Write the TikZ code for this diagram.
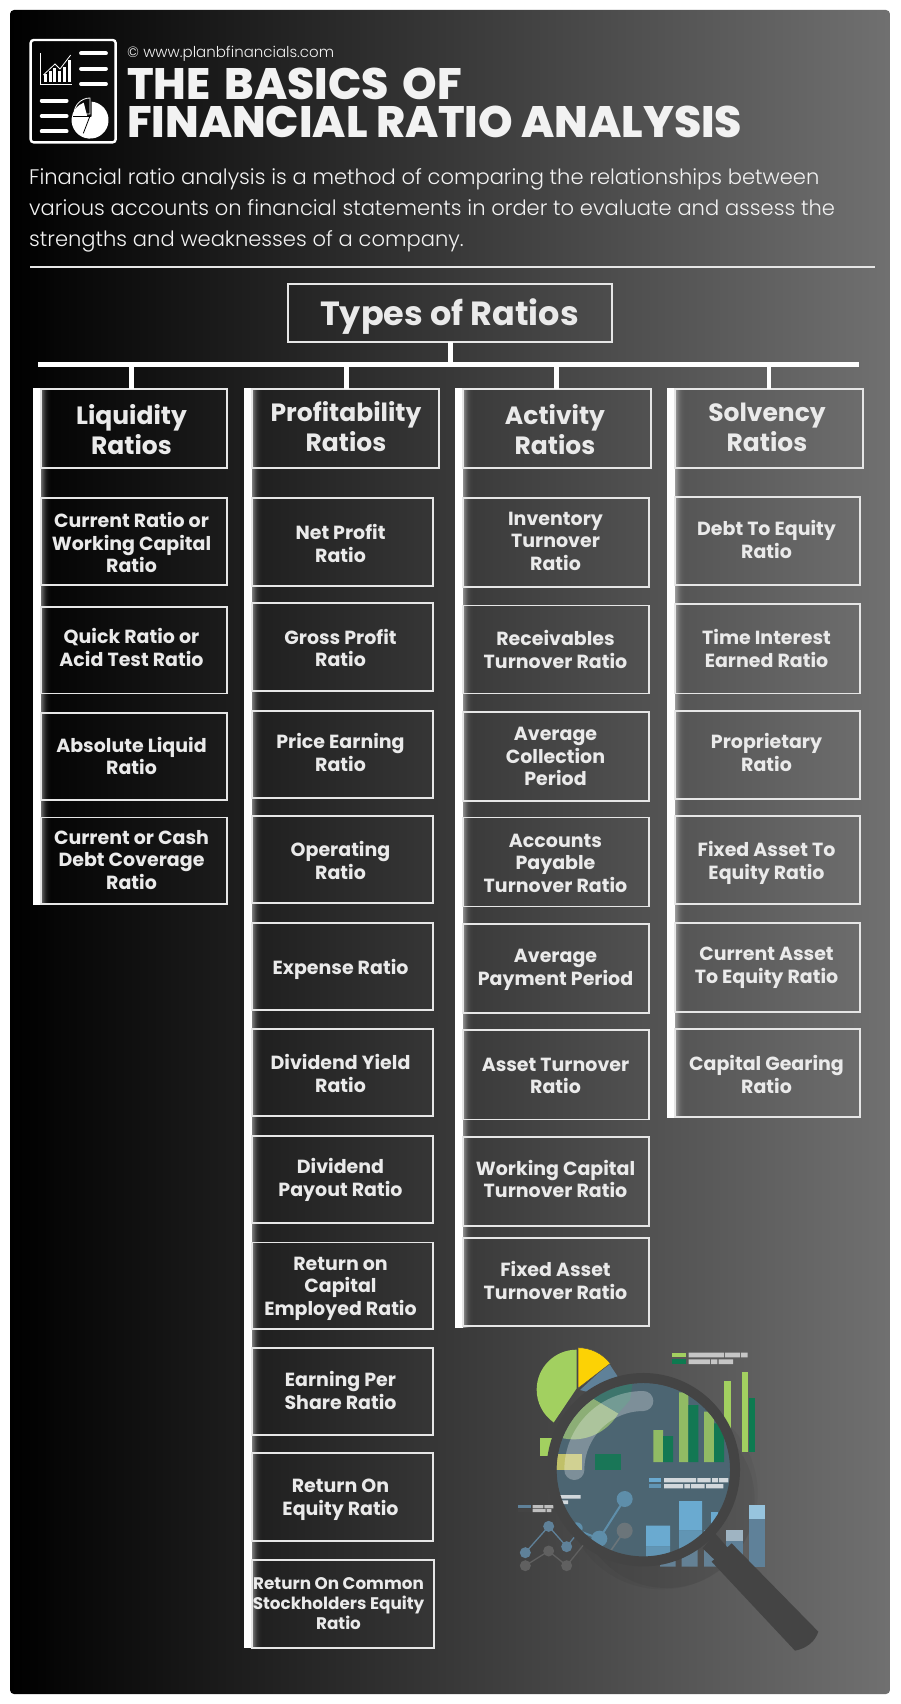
\documentclass[tikz,border=0pt]{standalone}
\usepackage{fontspec}
\usetikzlibrary{fit}
\setmainfont{Poppins}
\newfontfamily\titlef{Poppins ExtraBold}
\newfontfamily\bodyf{Poppins Light}
\definecolor{ink}{HTML}{F2F2F2}
\definecolor{cell}{HTML}{EAEAEA}
\definecolor{edge}{HTML}{E6E6E6}
\definecolor{ringc}{HTML}{444444}
\definecolor{lg}{HTML}{A2D060}
\definecolor{dg}{HTML}{0D7A50}
\definecolor{bl}{HTML}{5F8199}
\definecolor{blt}{HTML}{6AAAD0}
\definecolor{lensc}{HTML}{4C6572}
\tikzset{
  rectb/.style={draw=edge,inner sep=0pt,outer sep=0pt},
  hbx/.style={rectb,line width=1.9pt},
  ibx/.style={rectb,line width=1.5pt},
  lbx/.style={rectb,line width=1.9pt},
  txtb/.style={text=cell,align=center,inner sep=0pt,yshift=-2.3pt},
  htxt/.style={txtb,yshift=-1pt,font=\fontsize{25}{30}\selectfont\bfseries},
  itxt/.style={txtb,font=\fontsize{19}{22.5}\selectfont\bfseries},
  ltxt/.style={txtb,font=\fontsize{16.8}{20}\selectfont\bfseries},
  wbar/.style={fill=white,draw=none,inner sep=0pt,outer sep=0pt},
  conn/.style={draw=white,line width=4.6pt},
  mini/.style={x=0.33333pt,y=-0.33333pt},
}
\newcommand{\rbox}[9][i]{%
  \coordinate (#2-a) at (#3,#4); \coordinate (#2-b) at (#5,#6);
  \node[#1bx,fit=(#2-a)(#2-b)] (#2) {};
  \node[#1txt] (#2-t) at (#7,#8) {\strut #9\strut};}
\newcommand{\sidebar}[4]{%
  \foreach \i/\o in {0/.42,1/.34,2/.27,3/.2,4/.14,5/.09,6/.06,7/.035,8/.02,9/.01}{
    \fill[white,opacity=\o] ({#2+\i},#3) rectangle ({#2+\i+1},#4);}
  \coordinate (#1-a) at ({#2-8},{#3-1}); \coordinate (#1-b) at (#2,#4);
  \node[wbar,fit=(#1-a)(#1-b)] (#1) {};}
\begin{document}
\begin{tikzpicture}[x=1pt,y=-1pt]
\useasboundingbox (0,0) rectangle (900,1704);
\fill[white] (0,0) rectangle (900,1704);
\shade[left color=black,right color=black!56!white,rounded corners=4pt] (10,10) rectangle (890,1694);

% header icon
\begin{scope}[shift={(0,0)},mini]
  \draw[white,line width=2.4pt,rounded corners=3pt] (92,120) rectangle (347,427);
  \draw[white,line width=0.9pt] (121,160) -- (121,252) -- (215,252);
  \draw[white,line width=0.8pt] (130,225) -- (165,192) -- (180,207) -- (212,165);
  \foreach \a/\b in {132/222,146/212,160/205,174/214,188/200,203/180}{\fill[white] (\a,\b) rectangle ({\a+9},247);}
  \draw[white,line width=3.8pt,line cap=round] (243,160) -- (318,160) (243,206) -- (318,206) (243,252) -- (318,252)
    (125,302) -- (200,302) (125,348) -- (200,348) (125,394) -- (200,394);
  \fill[white] (275,305) arc[start angle=85,end angle=-250,radius=18.5pt] -- (262,350) -- (275,350) -- cycle;
  \draw[black,line width=0.8pt] (270,348) -- (250,400);
  \draw[black,line width=0.8pt] (220,348) -- (272,348);
  \draw[white,line width=0.8pt] (222,342) arc[start angle=180,end angle=90,radius=16pt] -- (270,342) -- cycle;
\end{scope}

\node[anchor=west,inner sep=0pt,text=ink,font=\fontsize{15}{18}\selectfont\bodyf] (web) at (127,54) {© www.planbfinancials.com};
\node[anchor=north west,inner sep=0pt,text=ink,align=left,font=\fontsize{44}{38}\selectfont\titlef] (title) at (127,68) {THE\hspace{5.5pt} BASICS\hspace{5.5pt} OF\\FINANCIAL RATIO ANALYSIS};
\node[anchor=north west,inner sep=0pt,text=ink,align=left,font=\fontsize{21.05}{31}\selectfont\bodyf] (intro) at (29,168.5) {Financial ratio analysis is a method of comparing the relationships between\\various accounts on financial statements in order to evaluate and assess the\\strengths and weaknesses of a company.};
\coordinate (hrl) at (30,267); \coordinate (hrr) at (875,267);
\draw[edge,line width=1.4pt] (hrl) -- (hrr);

% glows and bars
\sidebar{b1}{41}{389}{905}
\sidebar{b2}{252}{389}{1648}
\sidebar{b3}{463}{389}{1328}
\sidebar{b4}{675}{389}{1118}

% top of tree
\coordinate (busa) at (38,362); \coordinate (busb) at (859,367);
\node[wbar,fit=(busa)(busb)] (bus) {};
\coordinate (types-a) at (288,284); \coordinate (types-b) at (612,342);
\node[hbx,line width=2.2pt,fit=(types-a)(types-b)] (types) {};
\node[htxt,font=\fontsize{33.5}{40}\selectfont\bfseries] (types-t) at (449.5,314.5) {\strut Types of Ratios\strut};
\coordinate (d0) at (450.5,0);
\coordinate (d1) at (131.5,0); \coordinate (d2) at (346.5,0); \coordinate (d3) at (556.5,0); \coordinate (d4) at (769,0);

% column 1
\rbox[h]{h1}{41}{389}{227}{468}{131.5}{430}{Liquidity\\Ratios}
\rbox{c11}{41}{498}{227}{585}{131.5}{543.5}{Current Ratio or\\Working Capital\\Ratio}
\rbox{c12}{41}{607}{227}{693.5}{131.5}{648}{Quick Ratio or\\Acid Test Ratio}
\rbox{c13}{41}{713}{227}{800}{131.5}{756.5}{Absolute Liquid\\Ratio}
\rbox{c14}{41}{817.5}{227}{904}{131.5}{860}{Current or Cash\\Debt Coverage\\Ratio}
% column 2
\rbox[h]{h2}{252}{389}{439}{468}{346}{427}{Profitability\\Ratios}
\rbox{c21}{252}{498}{433}{586}{340.5}{544}{Net Profit\\Ratio}
\rbox{c22}{252}{603}{433}{691}{340.5}{648.5}{Gross Profit\\Ratio}
\rbox{c23}{252}{711}{433}{798}{340.5}{753}{Price Earning\\Ratio}
\rbox{c24}{252}{816}{433}{903}{340.5}{861}{Operating\\Ratio}
\rbox{c25}{252}{923}{433}{1010}{340.5}{967.5}{Expense Ratio}
\rbox{c26}{252}{1029}{433}{1116}{340.5}{1074}{Dividend Yield\\Ratio}
\rbox{c27}{252}{1136}{433}{1223}{340.5}{1178}{Dividend\\Payout Ratio}
\rbox{c28}{252}{1242.5}{433}{1329}{340.5}{1286}{Return on\\Capital\\Employed Ratio}
\rbox{c29}{252}{1348}{433}{1435}{340.5}{1391}{Earning Per\\Share Ratio}
\rbox{c210}{252}{1453}{433}{1541}{340.5}{1497}{Return On\\Equity Ratio}
\rbox[l]{c211}{252}{1560}{434}{1648}{338.5}{1603}{Return On Common\\Stockholders Equity\\Ratio}
% column 3
\rbox[h]{h3}{463}{389}{651}{468}{555}{430}{Activity\\Ratios}
\rbox{c31}{463}{498}{649}{587}{555.5}{541}{Inventory\\Turnover\\Ratio}
\rbox{c32}{463}{605.5}{649}{693.5}{555.5}{650}{Receivables\\Turnover Ratio}
\rbox{c33}{463}{712}{649}{801}{555.5}{756.5}{Average\\Collection\\Period}
\rbox{c34}{463}{817.5}{649}{906.5}{555.5}{863}{Accounts\\Payable\\Turnover Ratio}
\rbox{c35}{463}{924}{649}{1013}{555.5}{967}{Average\\Payment Period}
\rbox{c36}{463}{1030}{649}{1119.5}{555.5}{1075.5}{Asset Turnover\\Ratio}
\rbox{c37}{463}{1137}{649}{1226}{555.5}{1179.5}{Working Capital\\Turnover Ratio}
\rbox{c38}{463}{1238}{649}{1326}{555.5}{1281}{Fixed Asset\\Turnover Ratio}
% column 4
\rbox[h]{h4}{675}{389}{863}{468}{767}{427}{Solvency\\Ratios}
\rbox{c41}{675}{497}{860}{585}{766.5}{540}{Debt To Equity\\Ratio}
\rbox{c42}{675}{604}{860}{693.5}{766.5}{649}{Time Interest\\Earned Ratio}
\rbox{c43}{675}{711}{860}{799}{766.5}{753}{Proprietary\\Ratio}
\rbox{c44}{675}{816}{860}{904}{766.5}{861}{Fixed Asset To\\Equity Ratio}
\rbox{c45}{675}{923}{860}{1012}{766.5}{965}{Current Asset\\To Equity Ratio}
\rbox{c46}{675}{1029}{860}{1117}{766.5}{1075}{Capital Gearing\\Ratio}

% connectors
\draw[conn] (d0 |- types.south) -- (d0 |- bus.north);
\foreach \k in {1,2,3,4}{\draw[conn] (d\k |- bus.south) -- (d\k |- h\k.north);}

% magnifier illustration
\begin{scope}[shift={(480,1300)},mini]
  % things behind the lens
  \fill[black,opacity=.05] (560,600) circle[radius=88pt];
  \fill[black,opacity=.04] (545,580) circle[radius=96pt];
  \fill[lg] (290,265) -- (290,149) arc[start angle=90,end angle=235,radius=40pt] -- cycle;
  \fill[bl] (300,270) -- (387,190) -- (412,228) -- (420,300) -- cycle;
  \fill[yellow!70!orange,draw=black!70,line width=0.5pt] (294,265) -- (294,143) arc[start angle=90,end angle=38,radius=41pt] -- cycle;
  \fill[lg] (180,413) rectangle (215,467);
  \fill[lg] (576,158) rectangle (618,172);
  \fill[dg] (576,178) rectangle (618,192);
  \fill[lightgray!90!white] (626,158) rectangle (732,172) (735,158) rectangle (780,172) (783,158) rectangle (803,172)
     (626,178) rectangle (690,192) (693,178) rectangle (712,192) (716,178) rectangle (759,192);
  \fill[lg] (732,242) rectangle (752,400);
  \fill[lg] (786,216) rectangle (805,455);
  \fill[dg] (807,295) rectangle (826,455);
  \fill[bl] (807,656) rectangle (855,800);
  \fill[blt!70!white] (807,616) rectangle (855,656);
  \fill[bl] (739,722) rectangle (788,800);
  \fill[bl!60!white] (739,690) rectangle (788,722);
  \fill[bl!85!gray] (672,745) rectangle (720,800) (605,740) rectangle (653,800) (540,780) rectangle (587,800);
  \fill[bl] (115,615) rectangle (153,625);
  \fill[ringc] (115,627) rectangle (153,636);
  \fill[lightgray] (158,615) rectangle (190,625) (193,615) rectangle (220,625) (158,627) rectangle (197,636) (200,627) rectangle (214,636);
  \draw[gray!75!black,line width=1.3pt] (136,797) -- (206,753) -- (260,797) -- (310,735);
  \foreach \x/\y in {136/797,206/753,260/797}{\fill[gray!75!black] (\x,\y) circle[radius=5.5pt];}
  \draw[bl,line width=1.3pt] (136,758) -- (206,679) -- (260,740) -- (300,690);
  \foreach \x/\y in {136/758,206/679,260/740}{\fill[bl] (\x,\y) circle[radius=5.5pt];}
  % lens contents
  \begin{scope}
    \clip (490,510) circle[radius=87pt];
    \fill[lensc] (200,220) rectangle (780,800);
    \fill[lg!60!lensc!90!white] (300,272) -- (415,340) arc[start angle=-30,end angle=-135,radius=52pt] -- (215,340) -- cycle;
    \fill[dg!40!lensc!95!white] (300,272) -- (345,235) -- (460,235) -- (450,300) -- (415,340) -- cycle;
    \fill[lg!80!lensc] (520,390) rectangle (549,486) (597,277) rectangle (625,486) (672,335) rectangle (702,486);
    \fill[dg!90!lensc] (549,408) rectangle (579,486) (625,315) rectangle (655,486) (702,370) rectangle (732,486);
    \fill[dg!80!lensc] (345,462) rectangle (424,510);
    \fill[yellow!55!lensc!90!white] (228,462) rectangle (306,510);
    \fill[blt] (506,534) rectangle (544,547);
    \fill[blt!70!lensc] (506,552) rectangle (544,565);
    \fill[white!75!lensc] (552,534) rectangle (648,547) (652,534) rectangle (692,547) (696,534) rectangle (714,547) (717,534) rectangle (745,547)
       (552,552) rectangle (609,565) (613,552) rectangle (630,565) (633,552) rectangle (674,565) (678,552) rectangle (730,565)
       (240,585) rectangle (302,596) (240,601) rectangle (264,612);
    \fill[blt] (597,603) rectangle (666,692) (498,677) rectangle (570,740) (693,636) rectangle (714,680);
    \fill[blt!70!lensc] (597,692) rectangle (666,770) (498,740) rectangle (570,770) (672,690) rectangle (720,740);
    \draw[gray!60!lensc,line width=1.6pt] (390,755) -- (434,692);
    \fill[gray!60!lensc] (434,692) circle[radius=8pt];
    \draw[blt!60!lensc,line width=2pt] (290,690) -- (358,716) -- (434,597);
    \fill[blt!60!lensc] (434,597) circle[radius=8pt] (358,716) circle[radius=8pt] (290,685) circle[radius=6pt];
    \draw[white,opacity=.28,line width=20pt,line cap=round] (490,303) arc[start angle=90,end angle=180,radius=69pt];
  \end{scope}
  % ring and handle
  \draw[ringc,line width=10pt] (490,509) circle[radius=91.7pt];
  \fill[ringc] (668,745) -- (705,700) -- (745,745) -- (715,790) -- cycle;
  \fill[ringc] (695,785) -- (755,730) -- (1015,995) .. controls (1005,1025) and (980,1045) .. (945,1052) -- cycle;
\end{scope}
\end{tikzpicture}
\end{document}
